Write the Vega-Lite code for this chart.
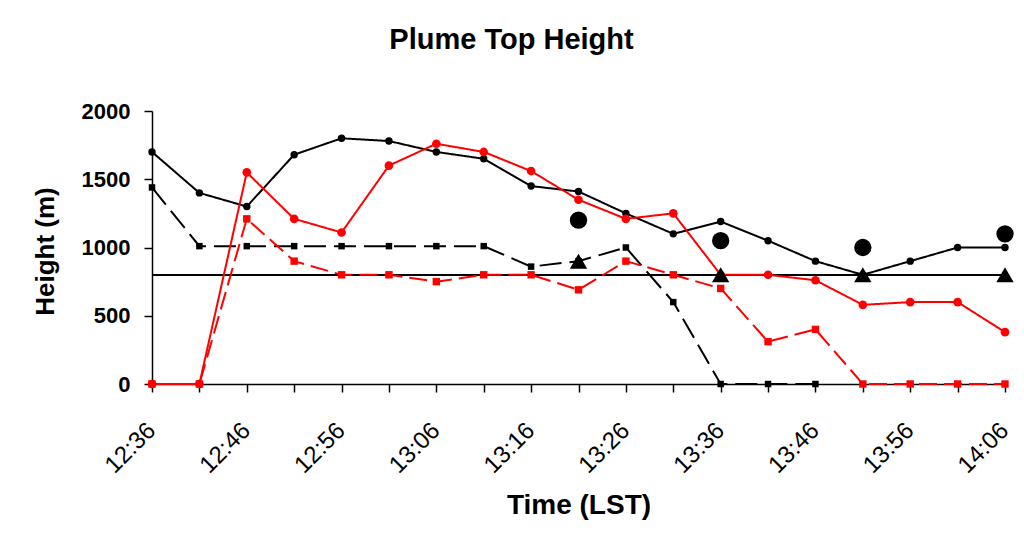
{
  "$schema": "https://vega.github.io/schema/vega-lite/v6.json",
  "autosize": "none",
  "width": 853,
  "height": 273,
  "padding": {"left": 152, "top": 111, "right": 19, "bottom": 164},
  "background": "white",
  "title": {"text": "Plume Top Height", "anchor": "middle", "frame": "group", "dx": -67, "offset": 45, "font": "Liberation Sans", "fontSize": 29, "fontWeight": "bold", "color": "black"},
  "config": {"view": {"stroke": null}},
  "data": {"values": [
    {"time": "12:36", "series": "A", "value": 1700},
    {"time": "12:41", "series": "A", "value": 1400},
    {"time": "12:46", "series": "A", "value": 1300},
    {"time": "12:51", "series": "A", "value": 1680},
    {"time": "12:56", "series": "A", "value": 1800},
    {"time": "13:01", "series": "A", "value": 1780},
    {"time": "13:06", "series": "A", "value": 1700},
    {"time": "13:11", "series": "A", "value": 1650},
    {"time": "13:16", "series": "A", "value": 1450},
    {"time": "13:21", "series": "A", "value": 1410},
    {"time": "13:26", "series": "A", "value": 1250},
    {"time": "13:31", "series": "A", "value": 1100},
    {"time": "13:36", "series": "A", "value": 1190},
    {"time": "13:41", "series": "A", "value": 1050},
    {"time": "13:46", "series": "A", "value": 900},
    {"time": "13:51", "series": "A", "value": 800},
    {"time": "13:56", "series": "A", "value": 900},
    {"time": "14:01", "series": "A", "value": 1000},
    {"time": "14:06", "series": "A", "value": 1000},
    {"time": "12:36", "series": "B", "value": 1440},
    {"time": "12:41", "series": "B", "value": 1010},
    {"time": "12:46", "series": "B", "value": 1010},
    {"time": "12:51", "series": "B", "value": 1010},
    {"time": "12:56", "series": "B", "value": 1010},
    {"time": "13:01", "series": "B", "value": 1010},
    {"time": "13:06", "series": "B", "value": 1010},
    {"time": "13:11", "series": "B", "value": 1010},
    {"time": "13:16", "series": "B", "value": 860},
    {"time": "13:21", "series": "B", "value": 900},
    {"time": "13:26", "series": "B", "value": 1000},
    {"time": "13:31", "series": "B", "value": 600},
    {"time": "13:36", "series": "B", "value": 0},
    {"time": "13:41", "series": "B", "value": 0},
    {"time": "13:46", "series": "B", "value": 0},
    {"time": "12:36", "series": "C", "value": 0},
    {"time": "12:41", "series": "C", "value": 0},
    {"time": "12:46", "series": "C", "value": 1550},
    {"time": "12:51", "series": "C", "value": 1210},
    {"time": "12:56", "series": "C", "value": 1110},
    {"time": "13:01", "series": "C", "value": 1600},
    {"time": "13:06", "series": "C", "value": 1760},
    {"time": "13:11", "series": "C", "value": 1700},
    {"time": "13:16", "series": "C", "value": 1560},
    {"time": "13:21", "series": "C", "value": 1350},
    {"time": "13:26", "series": "C", "value": 1210},
    {"time": "13:31", "series": "C", "value": 1250},
    {"time": "13:36", "series": "C", "value": 800},
    {"time": "13:41", "series": "C", "value": 800},
    {"time": "13:46", "series": "C", "value": 760},
    {"time": "13:51", "series": "C", "value": 580},
    {"time": "13:56", "series": "C", "value": 600},
    {"time": "14:01", "series": "C", "value": 600},
    {"time": "14:06", "series": "C", "value": 380},
    {"time": "12:36", "series": "D", "value": 0},
    {"time": "12:41", "series": "D", "value": 0},
    {"time": "12:46", "series": "D", "value": 1210},
    {"time": "12:51", "series": "D", "value": 900},
    {"time": "12:56", "series": "D", "value": 800},
    {"time": "13:01", "series": "D", "value": 800},
    {"time": "13:06", "series": "D", "value": 750},
    {"time": "13:11", "series": "D", "value": 800},
    {"time": "13:16", "series": "D", "value": 800},
    {"time": "13:21", "series": "D", "value": 690},
    {"time": "13:26", "series": "D", "value": 900},
    {"time": "13:31", "series": "D", "value": 800},
    {"time": "13:36", "series": "D", "value": 700},
    {"time": "13:41", "series": "D", "value": 310},
    {"time": "13:46", "series": "D", "value": 400},
    {"time": "13:51", "series": "D", "value": 0},
    {"time": "13:56", "series": "D", "value": 0},
    {"time": "14:01", "series": "D", "value": 0},
    {"time": "14:06", "series": "D", "value": 0},
    {"time": "13:21", "series": "E", "value": 1200},
    {"time": "13:36", "series": "E", "value": 1050},
    {"time": "13:51", "series": "E", "value": 1000},
    {"time": "14:06", "series": "E", "value": 1100},
    {"time": "13:21", "series": "F", "value": 900},
    {"time": "13:36", "series": "F", "value": 800},
    {"time": "13:51", "series": "F", "value": 800},
    {"time": "14:06", "series": "F", "value": 800}
  ]},
  "encoding": {
    "x": {
      "field": "time", "type": "ordinal", "sort": "ascending",
      "scale": {"type": "point", "padding": 0},
      "axis": {
        "title": "Time (LST)", "titleFont": "Liberation Sans", "titleFontSize": 28, "titleFontWeight": "bold", "titleColor": "black", "titlePadding": 14,
        "labelExpr": "slice(datum.label, -1) == '6' ? datum.label : ''",
        "labelAngle": -45, "labelPadding": 26, "labelOffset": -9, "labelFont": "Liberation Sans", "labelFontSize": 24, "labelColor": "black",
        "tickSize": 8, "tickColor": "black", "domainColor": "black", "domainWidth": 1.5, "tickWidth": 1.5, "grid": false
      }
    },
    "y": {
      "field": "value", "type": "quantitative",
      "scale": {"domain": [0, 2000], "nice": false},
      "axis": {
        "title": "Height (m)", "titleFont": "Liberation Sans", "titleFontSize": 26, "titleFontWeight": "bold", "titleColor": "black",
        "titleX": -107, "titleY": 140, "titleAngle": -90, "titleAlign": "center", "titleBaseline": "middle",
        "values": [0, 500, 1000, 1500, 2000], "format": "d",
        "labelPadding": 14, "labelFont": "Liberation Sans", "labelFontSize": 22, "labelFontWeight": "bold", "labelColor": "black",
        "tickSize": 8, "tickColor": "black", "domainColor": "black", "domainWidth": 1.5, "tickWidth": 1.5, "grid": false
      }
    }
  },
  "layer": [
    {
      "mark": {"type": "rule", "color": "black", "strokeWidth": 1},
      "encoding": {"x": null, "y": {"datum": 800, "type": "quantitative"}}
    },
    {
      "transform": [{"filter": "indexof(['A','B','C','D'], datum.series) >= 0"}],
      "mark": {"type": "line", "strokeWidth": 2},
      "encoding": {
        "detail": {"field": "series"},
        "color": {"field": "series", "type": "nominal", "scale": {"domain": ["A", "B", "C", "D", "E", "F"], "range": ["black", "black", "#ff0000", "#ff0000", "black", "black"]}, "legend": null},
        "strokeDash": {"field": "series", "type": "nominal", "scale": {"domain": ["A", "B", "C", "D"], "range": [[1, 0], [22, 8], [1, 0], [18, 7]]}, "legend": null}
      }
    },
    {
      "mark": {"type": "point", "filled": true, "opacity": 1},
      "encoding": {
        "color": {"field": "series", "type": "nominal", "legend": null},
        "shape": {"field": "series", "type": "nominal", "scale": {"domain": ["A", "B", "C", "D", "E", "F"], "range": ["circle", "square", "circle", "square", "circle", "triangle-up"]}, "legend": null},
        "size": {"field": "series", "type": "nominal", "scale": {"type": "ordinal", "domain": ["A", "B", "C", "D", "E", "F"], "range": [55, 42, 75, 55, 300, 300]}, "legend": null}
      }
    }
  ]
}
